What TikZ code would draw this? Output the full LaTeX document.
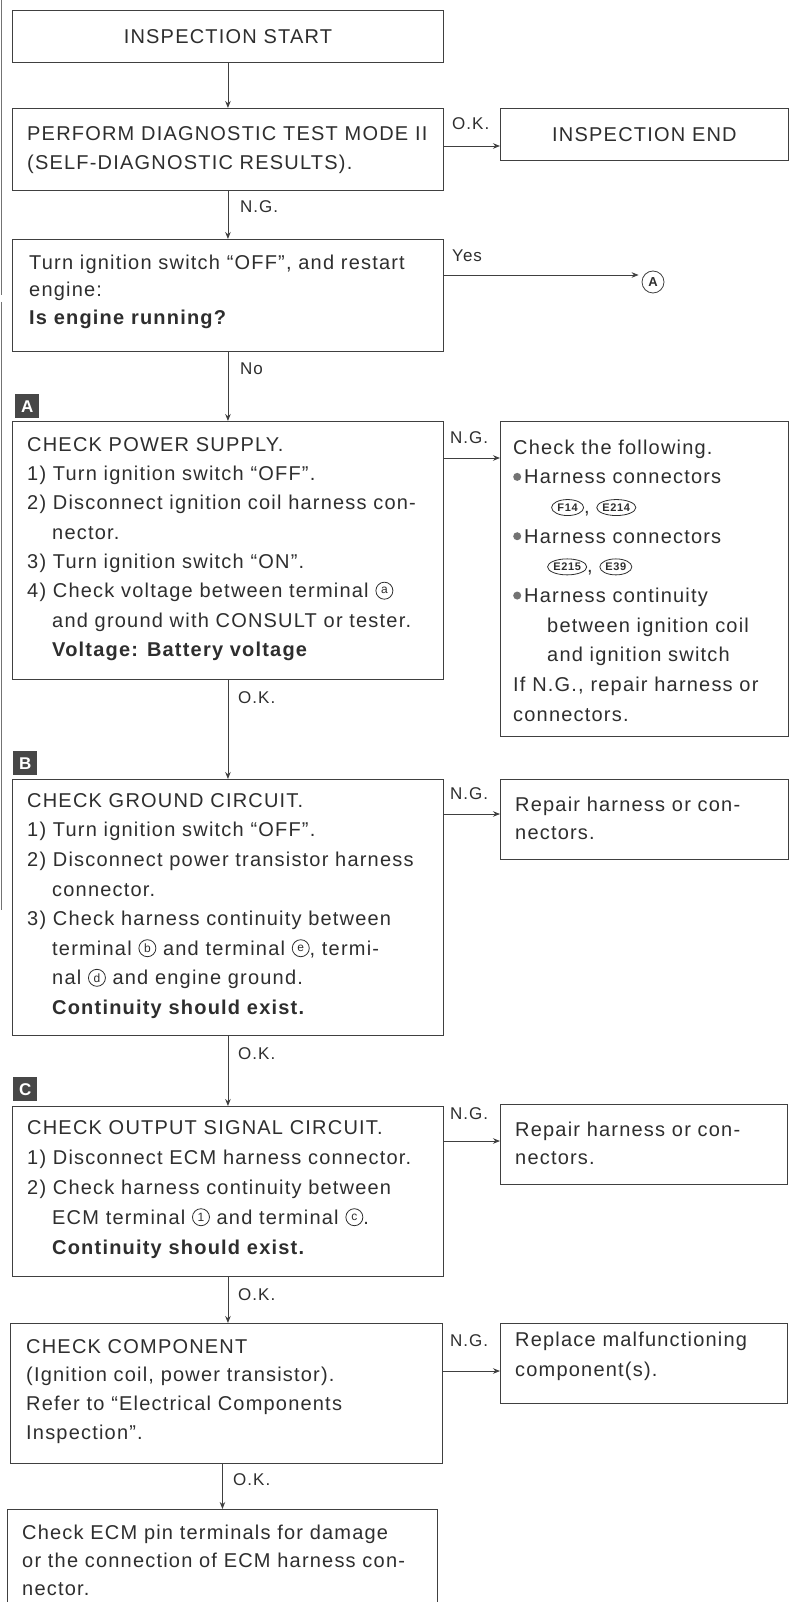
\documentclass[tikz,border=0pt]{standalone}
\usepackage{fontspec}
\setmainfont{Liberation Sans}[LetterSpace=6]
\usetikzlibrary{arrows.meta,shapes.geometric,calc}
\definecolor{linec}{gray}{0.25}
\definecolor{textc}{gray}{0.18}
\newcommand\mainsz{\fontsize{20}{29.5}\selectfont}
\newcommand\labsz{\fontsize{17}{20}\selectfont}
\newcommand\fs{\rule{0pt}{16pt}}
\newcommand\ind{\hspace*{25pt}}
\newcommand\cl[1]{\tikz[baseline={([yshift=-7pt]n.center)}]\node[circle,draw=textc,line width=0.8pt,minimum size=17pt,inner sep=0pt,text=textc,font=\fontsize{12}{12}\selectfont](n){#1};}
\newcommand\conn[1]{\tikz[baseline={([yshift=-6pt]n.center)}]\node[ellipse,draw=textc,line width=0.8pt,inner xsep=0pt,inner ysep=0pt,minimum width=32pt,minimum height=16pt,text=textc,font=\fontsize{11}{11}\selectfont\bfseries](n){#1};}
\newcommand\bul{\tikz[baseline={(0pt,-7pt)}]\fill[black!55] (0pt,0pt) circle (4pt);}
\begin{document}
\begin{tikzpicture}[x=1pt,y=1pt,
 box/.style={draw=linec,line width=0.9pt,rectangle,anchor=north west,inner sep=0pt},
 txt/.style={anchor=north west,inner sep=0pt,align=left,text=textc,font=\mainsz},
 lab/.style={anchor=base west,inner sep=0pt,text=textc,font=\labsz},
 arr/.style={draw=linec,line width=0.9pt,-{Stealth[length=7pt,width=5.5pt]}},
 tag/.style={anchor=north west,fill=black!72,text=white!85,minimum size=24pt,inner sep=0pt,font=\fontsize{17}{17}\selectfont\bfseries}
]
\fill[white] (0,0) rectangle (791,-1602);
\useasboundingbox (0,0) rectangle (791,-1602);
% left edge scan line
\draw[black!55,line width=1.2pt] (1.5,0) -- (1.5,-295);
\draw[black!55,line width=1.2pt] (1.5,-302) -- (1.5,-910);

% boxes
\node[box,minimum width=431pt,minimum height=52pt,text=textc,font=\mainsz] (b1) at (12,-10) {INSPECTION START};

\node[box,minimum width=431pt,minimum height=82pt] (b2) at (12,-108) {};
\node[txt] (t2) at (27,-124) {\fs PERFORM DIAGNOSTIC TEST MODE II\\(SELF-DIAGNOSTIC RESULTS).};
\node[box,minimum width=288pt,minimum height=52pt,text=textc,font=\mainsz] (e) at (500,-108) {INSPECTION END};

\node[box,minimum width=431pt,minimum height=112pt] (b3) at (12,-239) {};
\node[txt,font=\fontsize{20}{27.5}\selectfont] (t3) at (29,-253) {\fs Turn ignition switch ``OFF'', and restart\\engine:\\\textbf{Is engine running?}};
\node[circle,draw=linec,line width=0.8pt,inner sep=0pt,minimum size=22pt,text=textc,font=\fontsize{13}{13}\selectfont\bfseries] (cA) at (653,-282) {A};

\node[tag] (tA) at (15,-394) {A};
\node[box,minimum width=431pt,minimum height=258pt] (b4) at (12,-421) {};
\node[txt,font=\fontsize{20}{29.3}\selectfont] (t4) at (27,-435) {\fs CHECK POWER SUPPLY.\\
1) Turn ignition switch ``OFF''.\\
2) Disconnect ignition coil harness con-\\
\ind nector.\\
3) Turn ignition switch ``ON''.\\
4) Check voltage between terminal \cl{a}\\
\ind and ground with CONSULT or tester.\\
\ind\textbf{Voltage: Battery voltage}};

\node[box,minimum width=288pt,minimum height=315pt] (rA) at (500,-421) {};
\node[txt,font=\fontsize{20}{29.67}\selectfont] (trA) at (513,-438) {\fs Check the following.\\
\bul\hspace{3pt}Harness connectors\\
\hspace*{38pt}\conn{F14}, \conn{E214}\\
\bul\hspace{3pt}Harness connectors\\
\hspace*{34pt}\conn{E215}, \conn{E39}\\
\bul\hspace{3pt}Harness continuity\\
\hspace*{34pt}between ignition coil\\
\hspace*{34pt}and ignition switch\\
If N.G., repair harness or\\
connectors.};

\node[tag] (tB) at (13,-751) {B};
\node[box,minimum width=431pt,minimum height=256pt] (b5) at (12,-779) {};
\node[txt,font=\fontsize{20}{29.6}\selectfont] (t5) at (27,-791) {\fs CHECK GROUND CIRCUIT.\\
1) Turn ignition switch ``OFF''.\\
2) Disconnect power transistor harness\\
\ind connector.\\
3) Check harness continuity between\\
\ind terminal \cl{b} and terminal \cl{e}, termi-\\
\ind nal \cl{d} and engine ground.\\
\ind\textbf{Continuity should exist.}};

\node[box,minimum width=288pt,minimum height=80pt] (rB) at (500,-779) {};
\node[txt,font=\fontsize{20}{28}\selectfont] (trB) at (515,-795) {\fs Repair harness or con-\\nectors.};

\node[tag] (tC) at (13,-1077) {C};
\node[box,minimum width=431pt,minimum height=170pt] (b6) at (12,-1106) {};
\node[txt,font=\fontsize{20}{30}\selectfont] (t6) at (27,-1118) {\fs CHECK OUTPUT SIGNAL CIRCUIT.\\
1) Disconnect ECM harness connector.\\
2) Check harness continuity between\\
\ind ECM terminal \cl{1} and terminal \cl{c}.\\
\ind\textbf{Continuity should exist.}};

\node[box,minimum width=287pt,minimum height=80pt] (rC) at (500,-1104) {};
\node[txt,font=\fontsize{20}{28}\selectfont] (trC) at (515,-1120) {\fs Repair harness or con-\\nectors.};

\node[box,minimum width=432pt,minimum height=140pt] (b7) at (10,-1323) {};
\node[txt,font=\fontsize{20}{28.7}\selectfont] (t7) at (26,-1337) {\fs CHECK COMPONENT\\
(Ignition coil, power transistor).\\
Refer to ``Electrical Components\\
Inspection''.};

\node[box,minimum width=287pt,minimum height=80pt] (rD) at (500,-1323) {};
\node[txt,font=\fontsize{20}{30}\selectfont] (trD) at (515,-1330) {\fs Replace malfunctioning\\component(s).};

\node[box,minimum width=430pt,minimum height=140pt] (b8) at (7,-1509) {};
\node[txt,font=\fontsize{20}{28}\selectfont] (t8) at (22,-1523) {\fs Check ECM pin terminals for damage\\
or the connection of ECM harness con-\\
nector.};

% vertical connectors
\draw[arr] (b1.south) -- (b2.north);
\draw[arr] (b2.south) -- (b3.north);
\draw[arr] (b3.south) -- (b4.north);
\draw[arr] (b4.south) -- (b5.north);
\draw[arr] (b5.south) -- (b6.north);
\draw[arr] (b6.south) -- (b6.south |- b7.north);
\draw[arr] (b7.south -| b8.north) -- (b8.north);

% horizontal connectors
\coordinate (y1) at (0,-146);
\coordinate (y2) at (0,-275);
\coordinate (y3) at (0,-458);
\coordinate (y4) at (0,-814);
\coordinate (y5) at (0,-1141);
\coordinate (y6) at (0,-1371);
\draw[arr] (b2.east |- y1) -- (e.west |- y1);
\draw[arr] (b3.east |- y2) -- ([xshift=-3pt]cA.west |- y2);
\draw[arr] (b4.east |- y3) -- (rA.west |- y3);
\draw[arr] (b5.east |- y4) -- (rB.west |- y4);
\draw[arr] (b6.east |- y5) -- (rC.west |- y5);
\draw[arr] (b7.east |- y6) -- (rD.west |- y6);

% labels
\node[lab] (l1) at (452,-130) {O.K.};
\node[lab] (l2) at (240,-213) {N.G.};
\node[lab] (l3) at (452,-262) {Yes};
\node[lab] (l4) at (240,-374) {No};
\node[lab] (l5) at (450,-443) {N.G.};
\node[lab] (l6) at (238,-703) {O.K.};
\node[lab] (l7) at (450,-799) {N.G.};
\node[lab] (l8) at (238,-1059) {O.K.};
\node[lab] (l9) at (450,-1119) {N.G.};
\node[lab] (l10) at (238,-1300) {O.K.};
\node[lab] (l11) at (450,-1346) {N.G.};
\node[lab] (l12) at (233,-1485) {O.K.};
\end{tikzpicture}
\end{document}
